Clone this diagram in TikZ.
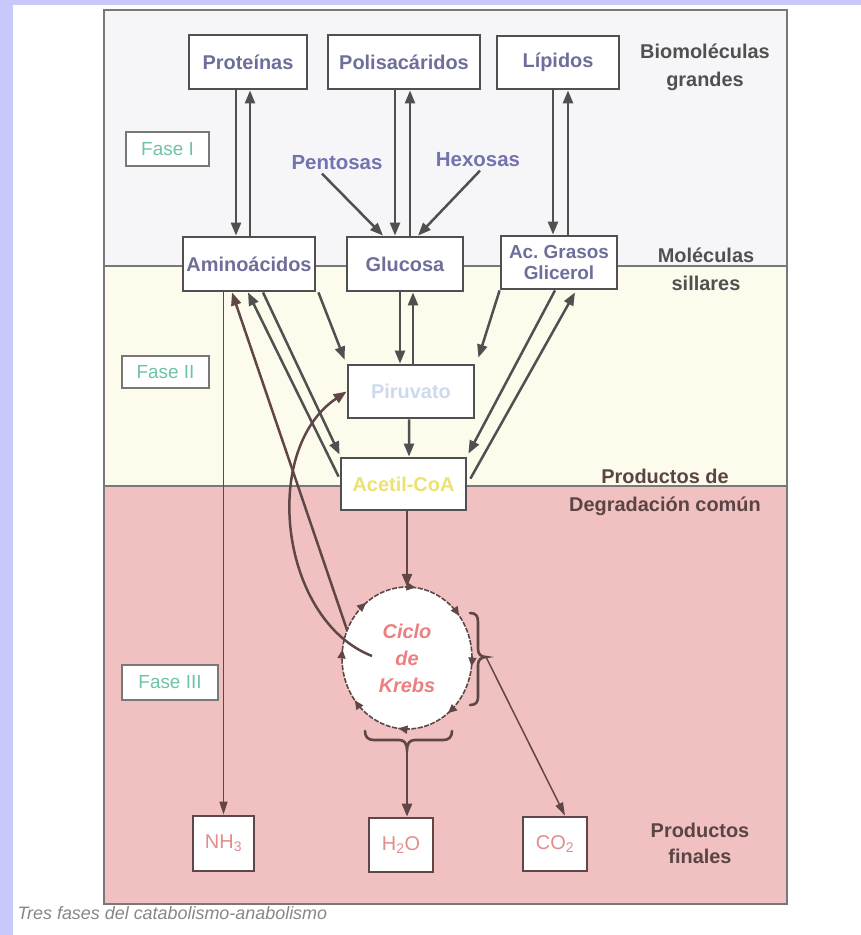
\documentclass[tikz,border=0pt]{standalone}
\usepackage{fontspec}
\setmainfont{Liberation Sans}
\usetikzlibrary{arrows.meta,calc,shapes.geometric,decorations.markings}

\definecolor{lav}{RGB}{200,200,250}
\definecolor{bandA}{RGB}{246,246,249}
\definecolor{bandB}{RGB}{253,251,236}
\definecolor{bandC}{RGB}{241,193,193}
\definecolor{framec}{RGB}{120,120,120}
\definecolor{linec}{RGB}{80,80,80}
\definecolor{linep}{RGB}{96,70,70}
\definecolor{boxtxt}{RGB}{110,110,155}
\definecolor{sugtxt}{RGB}{115,115,175}
\definecolor{fasetxt}{RGB}{110,195,165}
\definecolor{pirtxt}{RGB}{205,218,236}
\definecolor{acetxt}{RGB}{236,226,110}
\definecolor{prodtxt}{RGB}{228,140,140}
\definecolor{krebstxt}{RGB}{236,128,128}
\definecolor{lbltxt}{RGB}{80,80,80}
\definecolor{lblp}{RGB}{90,68,68}
\definecolor{captxt}{RGB}{135,135,135}

\tikzset{
  mbox/.style={draw=linec, line width=2.8bp, fill=white, inner sep=0pt,
    font=\fontsize{20}{22}\selectfont\bfseries, text=boxtxt, align=center},
  pbox/.style={mbox, draw=linep, font=\fontsize{20}{22}\selectfont, text=prodtxt},
  fasebox/.style={draw=framec, line width=1.8bp, fill=white, inner sep=0pt,
    font=\fontsize{19}{21}\selectfont, text=fasetxt},
  lbl/.style={font=\fontsize{20}{28}\selectfont\bfseries, text=lbltxt, align=center},
  sug/.style={font=\fontsize{20.5}{22}\selectfont\bfseries, text=sugtxt},
  arr/.style={draw=linec, line width=2.5bp, -{Triangle[length=13bp,width=10bp]}},
  arrp/.style={arr, draw=linep},
  thinarr/.style={draw=linep, line width=1.5bp, -{Triangle[length=13bp,width=8bp]}},
  bracesty/.style={draw=linep, line width=2.6bp, line cap=round},
  krebsline/.style={draw=linep, line width=1.6bp, dash pattern=on 5bp off 1.5bp,
    postaction={decorate},
    decoration={markings, mark=between positions 0.02 and 0.99 step 0.125
      with {\arrow[linep]{Triangle[length=9bp,width=8bp]}}}}
}

\begin{document}
\frenchspacing
\begin{tikzpicture}[x=1bp,y=-1bp]
\useasboundingbox (0,0) rectangle (861,935);
% page background
\fill[white] (0,0) rectangle (861,935);
\fill[lav] (0,0) rectangle (861,5);
\fill[lav] (0,0) rectangle (13,935);
% bands
\fill[bandA] (104,10) rectangle (787,266);
\fill[bandB] (104,266) rectangle (787,486);
\fill[bandC] (104,486) rectangle (787,904);
\draw[framec, line width=1.2bp] (104,266) -- (787,266);
\draw[framec, line width=1.2bp] (104,486) -- (787,486);
\draw[framec, line width=1.6bp] (104,10) rectangle (787,904);

% phase labels
\node[fasebox, minimum width=83bp, minimum height=34bp] (f1) at (167.5,149) {Fase I};
\node[fasebox, minimum width=87bp, minimum height=32bp] (f2) at (165.5,372) {Fase II};
\node[fasebox, minimum width=96bp, minimum height=35bp] (f3) at (170,682.5) {Fase III};

% right labels
\node[lbl] (l1) at (705,67) {Biomoléculas\\grandes};
\node[lbl] (l2) at (706,269) {Moléculas\\sillares};
\node[lbl, text=lblp] (l3) at (665,492) {Productos de\\Degradación común};
\node[lbl, text=lblp, font=\fontsize{20}{26}\selectfont\bfseries] (l4) at (700,843) {Productos\\finales};

% big molecules
\node[mbox, minimum width=118bp, minimum height=54bp] (prot) at (248,62) {Proteínas};
\node[mbox, minimum width=152bp, minimum height=54bp] (poli) at (404,62) {Polisacáridos};
\node[mbox, minimum width=122bp, minimum height=53bp] (lip) at (558,62.5) {Lípidos};

\node[sug] (pent) at (337,163) {Pentosas};
\node[sug] (hex) at (478,160) {Hexosas};

% building blocks
\node[mbox, minimum width=132bp, minimum height=54bp] (amino) at (249,264) {Aminoácidos};
\node[mbox, minimum width=116bp, minimum height=54bp] (gluc) at (405,264) {Glucosa};
\node[mbox, minimum width=116bp, minimum height=53bp, font=\fontsize{19}{21}\selectfont\bfseries] (acg) at (559,262.5) {Ac. Grasos\\Glicerol};

\node[mbox, minimum width=126bp, minimum height=53bp, text=pirtxt] (piru) at (411,391.5) {Piruvato};
\node[mbox, minimum width=125bp, minimum height=52bp, text=acetxt] (acet) at (403.5,484) {Acetil-CoA};

% Krebs
\node[ellipse, minimum width=130bp, minimum height=142bp, inner sep=0pt, fill=white,
  align=center, text=krebstxt, font=\fontsize{20}{27}\selectfont\bfseries\itshape] (krebs) at (407,658) {Ciclo\\de\\Krebs};
\draw[krebsline] (krebs.center) ellipse [x radius=65, y radius=71];

% final products
\node[pbox, minimum width=61bp, minimum height=55bp] (nh3) at (223.5,843.5) {NH\textsubscript{3}};
\node[pbox, minimum width=64bp, minimum height=54bp] (h2o) at (401,845) {H\textsubscript{2}O};
\node[pbox, minimum width=64bp, minimum height=54bp] (co2) at (555,844) {CO\textsubscript{2}};

% phase I arrows
\draw[arr] ($(prot.south)+(-12,0)$) -- ($(amino.north)+(-13,0)$);
\draw[arr] ($(amino.north)+(1,0)$) -- ($(prot.south)+(2,0)$);
\draw[arr] ($(poli.south)+(-9,0)$) -- ($(gluc.north)+(-10,0)$);
\draw[arr] ($(gluc.north)+(5,0)$) -- ($(poli.south)+(6,0)$);
\draw[arr] ($(lip.south)+(-5,0)$) -- ($(acg.north)+(-6,0)$);
\draw[arr] ($(acg.north)+(9,0)$) -- ($(lip.south)+(10,0)$);
\draw[arr] ($(pent.south)+(-15,0)$) -- ($(gluc.north)+(-22,0)$);
\draw[arr] ($(hex.south)+(2,0)$) -- ($(gluc.north)+(13,0)$);

% phase II arrows
\draw[arr] ($(gluc.south)+(-5,0)$) -- ($(piru.north)+(-11,0)$);
\draw[arr] ($(piru.north)+(2,0)$) -- ($(gluc.south)+(8,0)$);
\draw[arr] ($(amino.south east)+(2,0)$) -- ($(piru.north west)+(-2,-4)$);
\draw[arr] (acg.south west) -- ($(piru.north east)+(3,-6)$);
\draw[arr] ($(piru.south)+(-2,0)$) -- ($(acet.north)+(5.5,0)$);
\draw[arr] ($(amino.south)+(14,0)$) -- ($(acet.north west)+(0,-2)$);
\draw[arr] ($(acet.north west)+(-1,20)$) -- ($(amino.south)+(-1,0)$);
\draw[arr] ($(acg.south)+(-4,0)$) -- ($(acet.north east)+(1,-3)$);
\draw[arr] ($(acet.north east)+(3,22)$) -- ($(acg.south)+(16,2)$);

% to NH3
\draw[thinarr] (amino.south -| nh3.north) -- (nh3.north);

% phase III
\draw[arrp] (krebs.155) -- ($(amino.south)+(-17,0)$);
\draw[arrp] (acet.south -| krebs.north) -- (krebs.north);
\draw[arrp] ($(krebs.center)+(-35,-2)$) .. controls (280,620) and (260,450) .. (piru.west);

% braces
\coordinate (rb) at (486,657);
\coordinate (bb) at (407,750);
\draw[bracesty] (470,613) .. controls (476,613) and (478,616) .. (478,622) -- (478,649)
  .. controls (478,654) and (481,657) .. (rb)
  .. controls (481,657) and (478,660) .. (478,665) -- (478,697)
  .. controls (478,702) and (476,705) .. (470,705);
\draw[bracesty] (365,731) .. controls (365,737) and (368,740) .. (374,740) -- (399,740)
  .. controls (404,740) and (407,743) .. (bb)
  .. controls (407,743) and (410,740) .. (415,740) -- (443,740)
  .. controls (449,740) and (452,737) .. (452,731);
\draw[arrp] (bb) -- (bb |- h2o.north);
\draw[thinarr] (rb) -- ($(co2.north)+(10,0)$);

% caption
\node[anchor=west, font=\fontsize{18}{20}\selectfont\itshape, text=captxt] (cap) at (14,913) {Tres fases del catabolismo-anabolismo};
\end{tikzpicture}
\end{document}
